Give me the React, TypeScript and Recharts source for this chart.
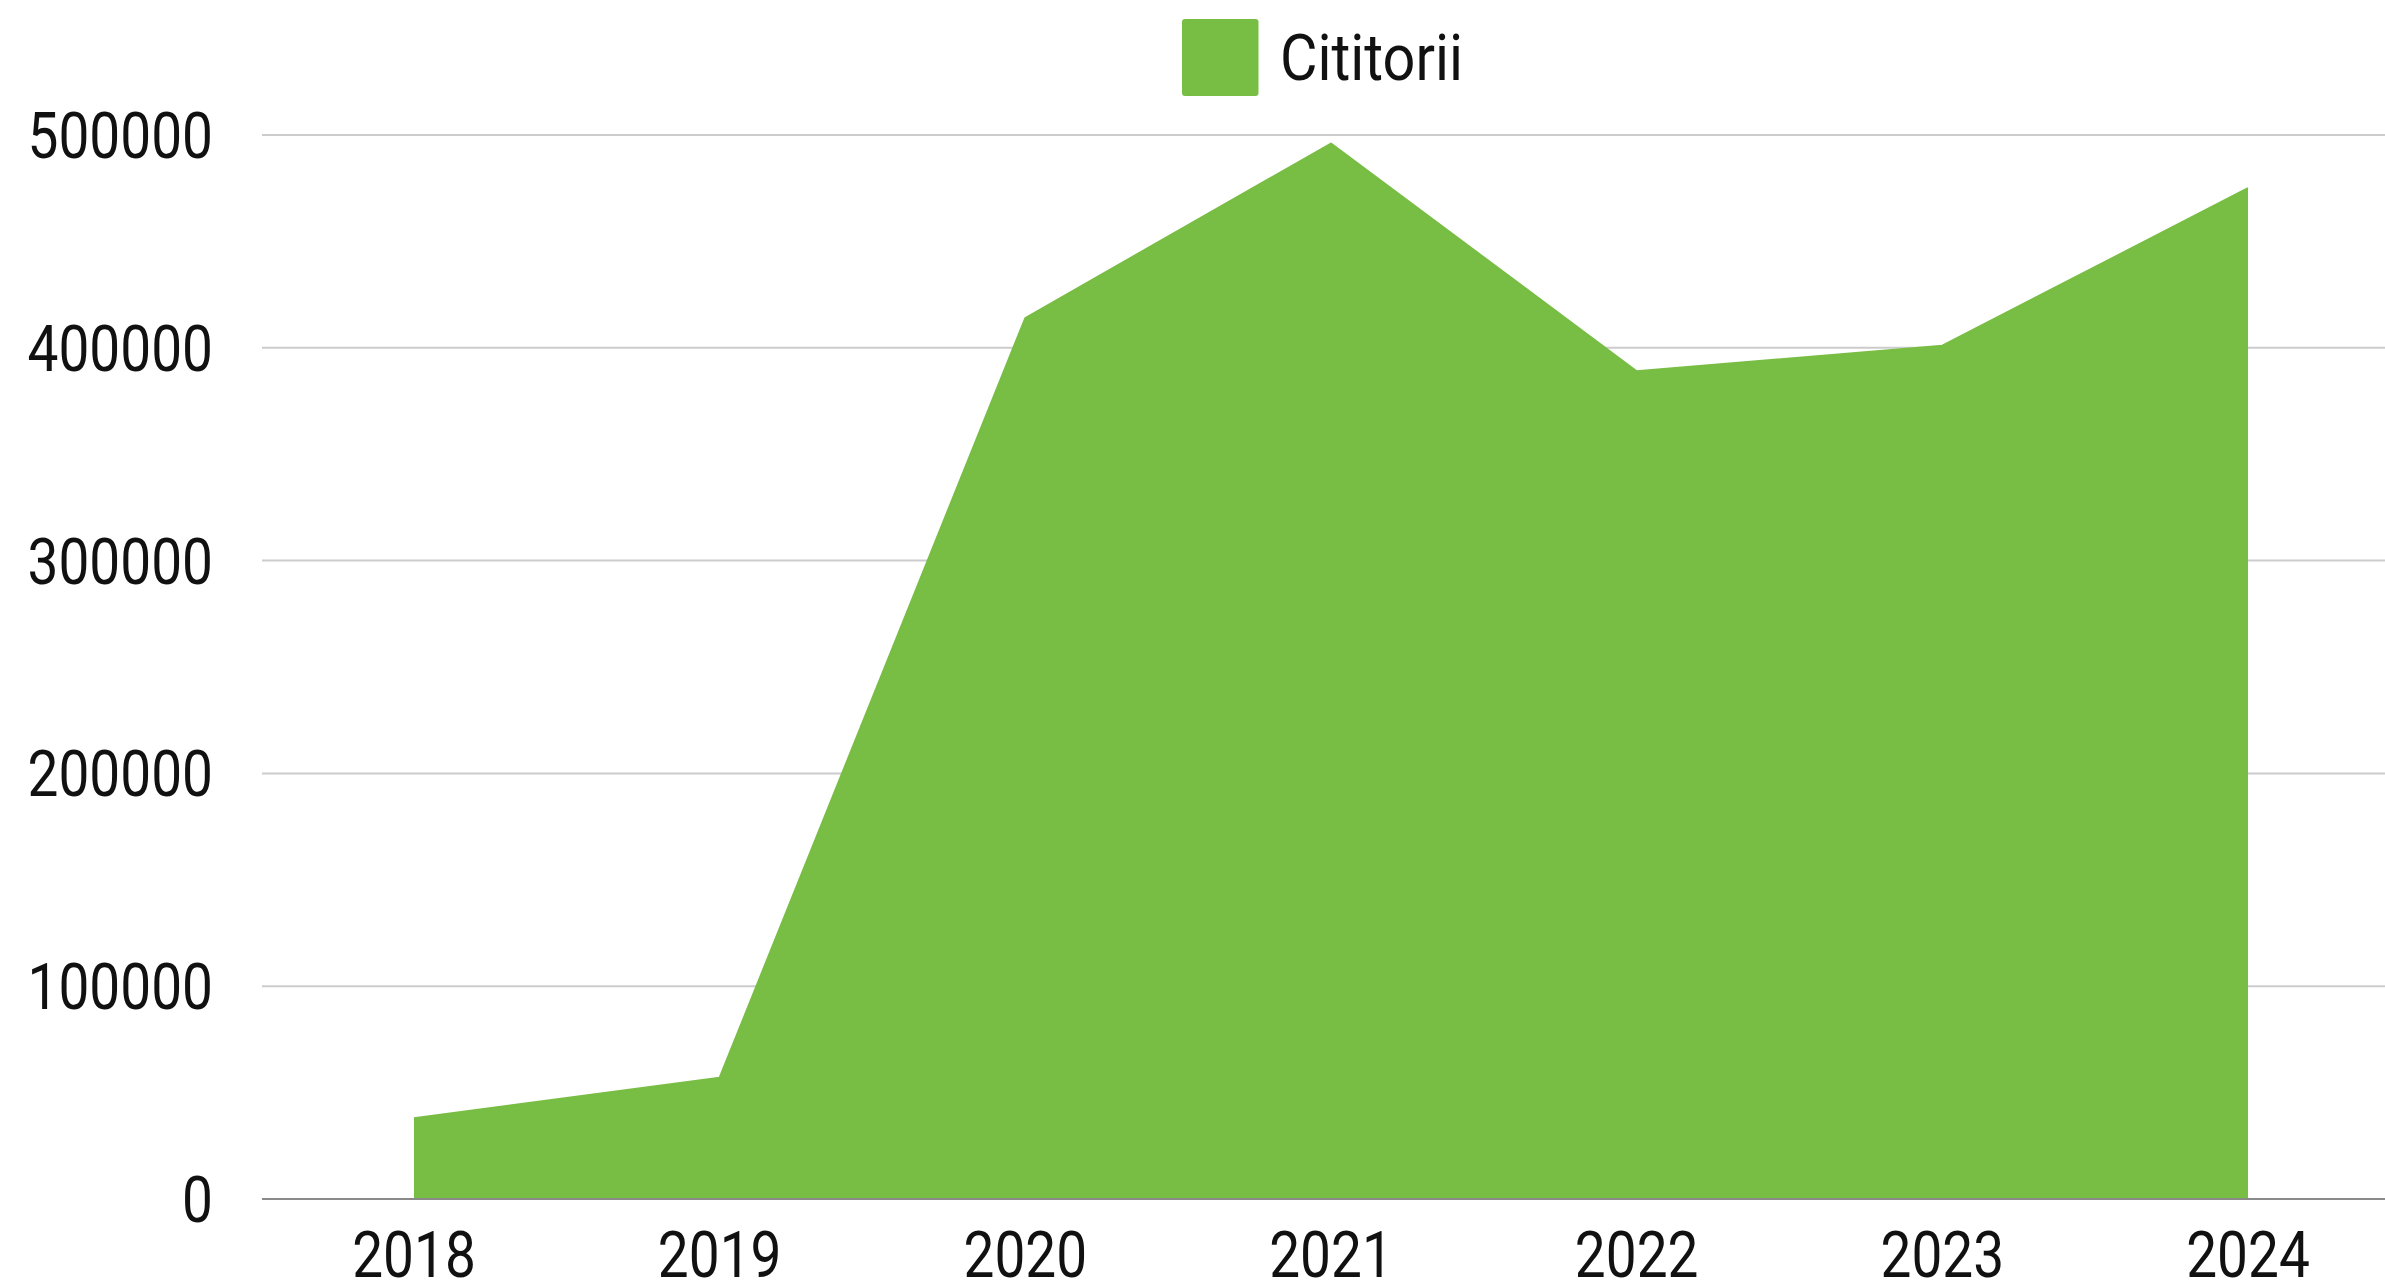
import React from 'react';
import { AreaChart, Area, XAxis, YAxis, CartesianGrid, Legend } from 'recharts';

const years = ['2018', '2019', '2020', '2021', '2022', '2023', '2024'];
const readers = [38000, 57000, 414000, 496000, 389000, 401000, 475000];
const yTicks = [0, 100000, 200000, 300000, 400000, 500000];
const seriesName = 'Cititorii';

const data = years.map((y, i) => ({ year: y, value: readers[i] }));

const GREEN = '#78bd44';
const FONT = 'Roboto, "Noto Sans", sans-serif';

const YTick = (props: any) => {
  const { x, y, payload } = props;
  return (
    <text
      transform={`translate(${x},${y}) scale(0.86,1)`}
      x={0}
      y={0}
      dy={23}
      textAnchor="end"
      fontFamily={FONT}
      fontSize={64}
      fill="#111"
    >
      {payload.value}
    </text>
  );
};

const XTick = (props: any) => {
  const { x, y, payload } = props;
  return (
    <text
      transform={`translate(${x},${y}) scale(0.86,1)`}
      x={0}
      y={0}
      dy={78}
      textAnchor="middle"
      fontFamily={FONT}
      fontSize={64}
      fill="#111"
    >
      {payload.value}
    </text>
  );
};

const LegendContent = (props: any) => {
  const { payload } = props;
  const item = payload && payload[0];
  if (!item) return null;
  return (
    <svg width={2385} height={110} style={{ display: 'block' }}>
      <rect x={1182} y={19} width={76.5} height={77} rx={3} fill={item.color} />
      <text
        transform="translate(1280,80) scale(0.9,1)"
        fontFamily={FONT}
        fontSize={64}
        fill="#111"
      >
        {item.value}
      </text>
    </svg>
  );
};

export default function App() {
  return (
    <div style={{ width: 2385, height: 1283 }}>
      <style>{'body{margin:0;overflow:hidden;background:#fff}'}</style>
      <AreaChart
        width={2385}
        height={1283}
        data={data}
        margin={{ top: 135, right: 0, left: 0, bottom: 0 }}
      >
        <CartesianGrid vertical={false} stroke="#cccccc" strokeWidth={2} />
        <XAxis
          dataKey="year"
          height={84}
          tickSize={0}
          tickMargin={0}
          tickLine={false}
          axisLine={{ stroke: '#8a8a8a', strokeWidth: 2 }}
          padding={{ left: 152, right: 137 }}
          tick={<XTick />}
          interval={0}
        />
        <YAxis
          width={262}
          domain={[0, 500000]}
          ticks={yTicks}
          tickSize={0}
          tickMargin={49}
          tickLine={false}
          axisLine={false}
          tick={<YTick />}
          interval={0}
        />
        <Legend
          layout="vertical"
          verticalAlign="middle"
          align="center"
          wrapperStyle={{ top: 0, left: 0, width: 2385, height: 110 }}
          content={<LegendContent />}
        />
        <Area
          type="linear"
          dataKey="value"
          name={seriesName}
          fill={GREEN}
          fillOpacity={1}
          stroke={GREEN}
          strokeWidth={2}
          strokeLinejoin="round"
          isAnimationActive={false}
          activeDot={false}
          dot={false}
        />
      </AreaChart>
    </div>
  );
}
